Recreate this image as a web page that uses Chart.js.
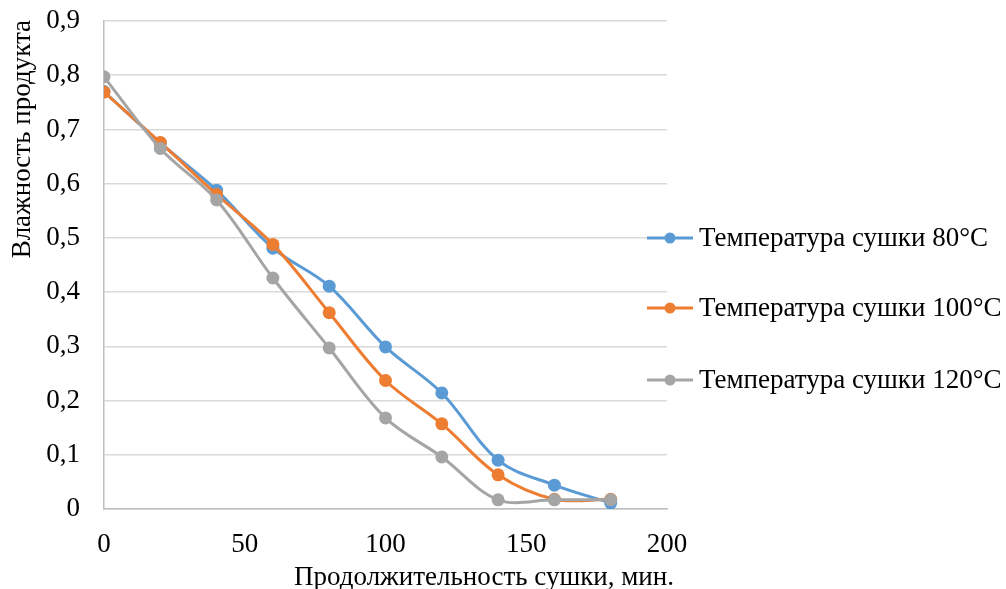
<!DOCTYPE html>
<html>
<head>
<meta charset="utf-8">
<script src="https://cdn.jsdelivr.net/npm/chart.js@4"></script>
<style>
  html, body { margin: 0; padding: 0; background: #fff; }
  #wrap { width: 1006px; height: 589px; }
</style>
</head>
<body>
<div id="wrap"><canvas id="chart" width="1006" height="589"></canvas></div>
<script>
// drying time, min
var times = [0, 20, 40, 60, 80, 100, 120, 140, 160, 180];
// product moisture for each drying temperature
var moisture80 = [0.770, 0.675, 0.588, 0.481, 0.411, 0.299, 0.214, 0.090, 0.044, 0.011];
var moisture100 = [0.769, 0.676, 0.580, 0.488, 0.362, 0.237, 0.157, 0.063, 0.018, 0.018];
var moisture120 = [0.797, 0.665, 0.570, 0.426, 0.297, 0.168, 0.096, 0.017, 0.017, 0.017];
var seriesNames = ['Температура сушки 80°C', 'Температура сушки 100°C', 'Температура сушки 120°C'];
var xTitle = 'Продолжительность сушки, мин.';
var yTitle = 'Влажность продукта';

var colors = ['#5B9BD5', '#ED7D31', '#A5A5A5'];
var font = "'Liberation Serif', 'Times New Roman', serif";

function toPoints(ys) {
    var pts = [];
    for (var i = 0; i < times.length; i++) {
        pts.push({x: times[i], y: ys[i]});
    }
    return pts;
}

function makeSet(idx, ys) {
    return {
        label: seriesNames[idx],
        data: toPoints(ys),
        borderColor: colors[idx],
        backgroundColor: colors[idx],
        borderWidth: 3,
        pointRadius: 6.5,
        pointHoverRadius: 6.5,
        pointBorderWidth: 0,
        tension: 0.35,
        order: 3 - idx
    };
}

// legend and axis titles drawn by hand so they sit where Excel put them
var extras = {
    id: 'extras',
    afterDraw: function(chart) {
        var ctx = chart.ctx;
        ctx.save();
        ctx.fillStyle = '#000';
        ctx.font = '27px ' + font;

        ctx.textAlign = 'center';
        ctx.textBaseline = 'middle';
        ctx.fillText(xTitle, 484, 578);

        ctx.save();
        ctx.translate(23, 20);
        ctx.rotate(-Math.PI / 2);
        ctx.textAlign = 'right';
        ctx.textBaseline = 'middle';
        ctx.fillText(yTitle, 0, 0);
        ctx.restore();

        var rows = [238, 308, 380];
        chart.data.datasets.forEach(function(ds, i) {
            var y = rows[i];
            ctx.strokeStyle = ds.borderColor;
            ctx.lineWidth = 3;
            ctx.beginPath();
            ctx.moveTo(647, y);
            ctx.lineTo(693, y);
            ctx.stroke();
            ctx.fillStyle = ds.backgroundColor;
            ctx.beginPath();
            ctx.arc(670, y, 5.5, 0, Math.PI * 2);
            ctx.fill();
            ctx.fillStyle = '#000';
            ctx.textAlign = 'left';
            ctx.textBaseline = 'middle';
            ctx.fillText(ds.label, 699, y + 1);
        });
        ctx.restore();
    }
};

new Chart(document.getElementById('chart'), {
    type: 'line',
    data: {
        datasets: [
            makeSet(0, moisture80),
            makeSet(1, moisture100),
            makeSet(2, moisture120)
        ]
    },
    options: {
        responsive: false,
        animation: false,
        layout: { padding: { left: 0, right: 339, top: 21, bottom: 0 } },
        plugins: {
            legend: { display: false },
            tooltip: { enabled: false }
        },
        scales: {
            x: {
                type: 'linear',
                min: 0,
                max: 200,
                ticks: {
                    stepSize: 50,
                    color: '#000',
                    padding: 20,
                    font: { family: font, size: 27 }
                },
                grid: { display: false, drawTicks: false },
                border: { display: true, color: '#bfbfbf', width: 1.5 },
                afterFit: function(scale) {
                    scale.height = 80;
                    scale.paddingLeft = 0;
                    scale.paddingRight = 0;
                }
            },
            y: {
                min: 0,
                max: 0.9,
                ticks: {
                    stepSize: 0.1,
                    color: '#000',
                    padding: 24,
                    font: { family: font, size: 27 },
                    callback: function(v) {
                        var r = Math.round(v * 10) / 10;
                        return r === 0 ? '0' : r.toFixed(1).replace('.', ',');
                    }
                },
                grid: { color: '#d9d9d9', lineWidth: 1.5, drawTicks: false },
                border: { display: true, color: '#bfbfbf', width: 1.5 },
                afterFit: function(scale) {
                    scale.width = 104;
                    scale.paddingTop = 0;
                    scale.paddingBottom = 0;
                }
            }
        }
    },
    plugins: [extras]
});
</script>
</body>
</html>
